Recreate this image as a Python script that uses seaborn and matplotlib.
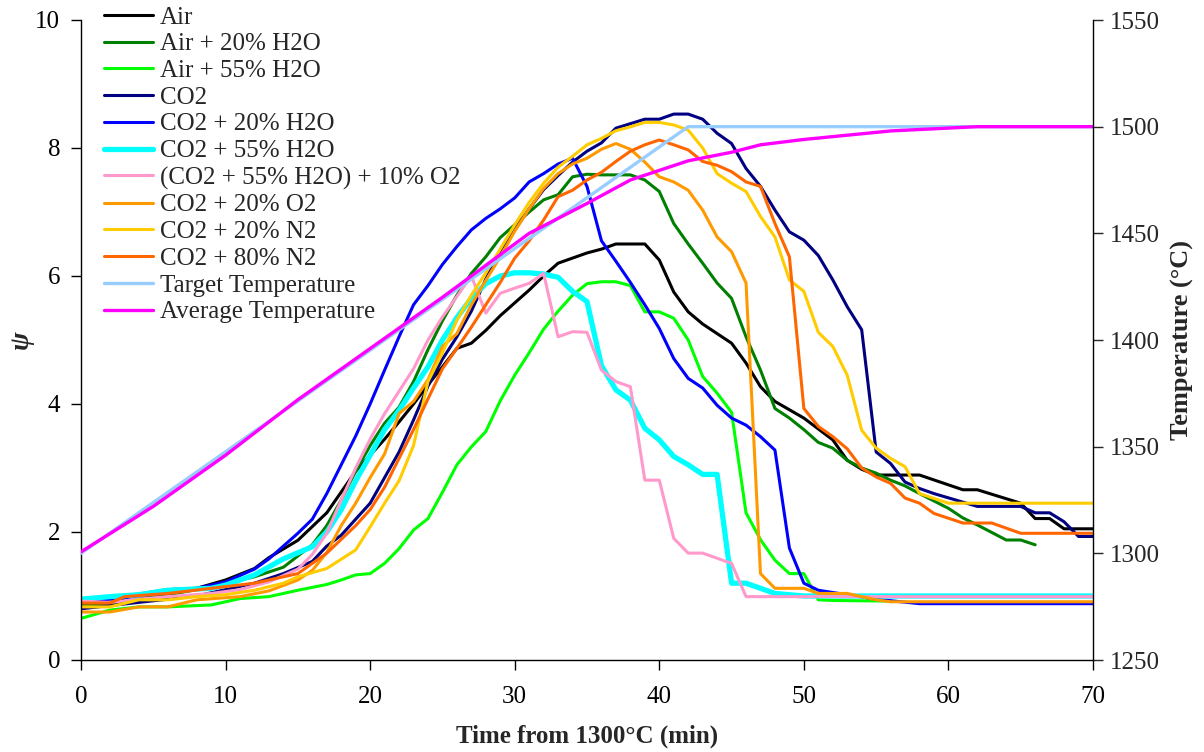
import matplotlib
matplotlib.use("Agg")
import matplotlib.pyplot as plt
import seaborn as sns
from matplotlib.lines import Line2D

# ---------------- data ----------------
air_t = [0, 2, 4, 6, 8, 10, 12, 13, 15, 17, 19, 20, 21, 22, 23, 24, 25, 26, 27, 28, 29, 30, 31, 32, 33, 34, 35,
         36, 37, 38, 39, 40, 41, 42, 43, 44, 45, 46, 47, 48, 50, 52, 53, 54, 55, 58, 61, 62, 65, 66, 67, 68, 70]
air_v = [0.85, 0.9, 1.03, 1.1, 1.12, 1.25, 1.43, 1.6, 1.87, 2.3, 2.95, 3.2, 3.45, 3.72, 4.0, 4.3, 4.58, 4.87, 4.95,
         5.15, 5.38, 5.58, 5.78, 6.0, 6.2, 6.28, 6.36, 6.42, 6.5, 6.5, 6.5, 6.25, 5.75, 5.44, 5.25, 5.1, 4.95, 4.64,
         4.27, 4.04, 3.78, 3.44, 3.12, 2.98, 2.89, 2.89, 2.66, 2.66, 2.45, 2.21, 2.21, 2.05, 2.05]

air20_t = [0, 2, 4, 6, 8, 10, 12, 14, 16, 17, 18, 19, 20, 21, 22, 23, 24, 25, 26, 27, 28, 29, 30, 31, 32, 33, 34, 35,
           36, 37, 38, 39, 40, 41, 42, 43, 44, 45, 46, 47, 48, 49, 50, 51, 52, 53, 54, 55, 56, 57, 58, 60, 61, 62,
           64, 65, 66]
air20_v = [0.85, 0.88, 0.95, 1.02, 1.1, 1.2, 1.3, 1.45, 1.8, 2.1, 2.5, 2.95, 3.35, 3.7, 3.95, 4.35, 4.85, 5.3, 5.7,
           6.04, 6.3, 6.6, 6.8, 7.0, 7.19, 7.27, 7.55, 7.59, 7.58, 7.58, 7.58, 7.5, 7.32, 6.82, 6.5, 6.2, 5.89, 5.65,
           5.05, 4.53, 3.93, 3.78, 3.6, 3.4, 3.31, 3.12, 3.0, 2.92, 2.81, 2.72, 2.6, 2.37, 2.22, 2.11, 1.875, 1.875,
           1.8]

air55_t = [0, 2, 4, 6, 9, 11, 13, 15, 17, 18, 19, 20, 21, 22, 23, 24, 25, 26, 27, 28, 29, 30, 31, 32, 33, 34, 35,
           36, 37, 38, 39, 40, 41, 42, 43, 44, 45, 46, 47, 48, 49, 50, 51, 52, 56]
air55_v = [0.65, 0.78, 0.83, 0.83, 0.86, 0.96, 0.99, 1.09, 1.18, 1.25, 1.33, 1.35, 1.51, 1.74, 2.03, 2.21, 2.62,
           3.05, 3.33, 3.57, 4.05, 4.45, 4.8, 5.17, 5.45, 5.7, 5.88, 5.91, 5.91, 5.85, 5.44, 5.44, 5.34, 5.0, 4.43,
           4.17, 3.87, 2.3, 1.88, 1.56, 1.35, 1.35, 0.94, 0.93, 0.92]

co2_t = [0, 2, 4, 6, 8, 10, 12, 14, 16, 17, 18, 19, 20, 21, 22, 23, 24, 25, 26, 27, 28, 29, 30, 31, 32, 33, 34, 35,
         36, 37, 38, 39, 40, 41, 42, 43, 44, 45, 46, 47, 48, 49, 50, 51, 52, 53, 54, 55, 56, 57, 58, 59, 62, 65, 66,
         67, 68, 69, 70]
co2_v = [0.8, 0.85, 0.9, 0.95, 1.0, 1.1, 1.2, 1.35, 1.54, 1.78, 1.95, 2.2, 2.45, 2.85, 3.25, 3.75, 4.28, 4.7, 5.05,
         5.45, 5.95, 6.4, 6.72, 7.05, 7.35, 7.57, 7.78, 7.95, 8.08, 8.31, 8.38, 8.45, 8.45, 8.53, 8.53, 8.45, 8.23,
         8.07, 7.68, 7.4, 7.03, 6.69, 6.56, 6.32, 5.94, 5.52, 5.16, 3.25, 3.07, 2.78, 2.68, 2.6, 2.4, 2.4, 2.3, 2.3,
         2.16, 1.93, 1.93]

co2h20_t = [0, 2, 4, 6, 8, 10, 12, 13, 14, 15, 16, 17, 18, 19, 20, 21, 22, 23, 24, 25, 26, 27, 28, 29, 30, 31, 32,
            33, 34, 35, 36, 37, 38, 39, 40, 41, 42, 43, 44, 45, 46, 47, 48, 49, 50, 51, 53, 55, 58, 70]
co2h20_v = [0.9, 0.95, 1.0, 1.05, 1.12, 1.22, 1.42, 1.58, 1.78, 1.98, 2.2, 2.6, 3.05, 3.5, 4.0, 4.53, 5.05, 5.55,
            5.85, 6.18, 6.46, 6.72, 6.9, 7.05, 7.22, 7.47, 7.6, 7.75, 7.84, 7.4, 6.55, 6.23, 5.9, 5.55, 5.18, 4.71,
            4.4, 4.25, 3.98, 3.78, 3.67, 3.49, 3.28, 1.75, 1.2, 1.09, 1.02, 0.95, 0.88, 0.88]

co2h55_t = [0, 2, 4, 6, 9, 10, 12, 14, 16, 17, 18, 19, 20, 21, 22, 23, 24, 25, 26, 27, 28, 29, 30, 31, 32, 33, 34,
            35, 36, 37, 38, 39, 40, 41, 42, 43, 44, 45, 46, 47, 48, 49, 50, 70]
co2h55_v = [0.95, 0.99, 1.02, 1.09, 1.12, 1.17, 1.33, 1.58, 1.77, 2.0, 2.35, 2.8, 3.2, 3.6, 3.9, 4.25, 4.58, 5.0,
            5.35, 5.65, 5.88, 6.0, 6.05, 6.05, 6.03, 5.98, 5.76, 5.6, 4.6, 4.22, 4.06, 3.62, 3.44, 3.18, 3.05, 2.9,
            2.9, 1.2, 1.2, 1.12, 1.04, 1.02, 1.0, 1.0]

co2h55o2_t = [0, 2, 4, 6, 9, 11, 13, 15, 16, 17, 18, 19, 20, 21, 22, 23, 24, 25, 26, 27, 28, 29, 30, 31, 32, 33,
              34, 35, 36, 37, 38, 39, 40, 41, 42, 43, 44, 45, 46, 70]
co2h55o2_v = [0.92, 0.9, 0.95, 0.99, 1.04, 1.1, 1.22, 1.42, 1.65, 1.98, 2.5, 3.0, 3.45, 3.85, 4.2, 4.55, 5.0, 5.36,
              5.68, 6.0, 5.42, 5.73, 5.81, 5.885, 6.04, 5.05, 5.13, 5.12, 4.53, 4.35, 4.27, 2.81, 2.81, 1.9, 1.67,
              1.67, 1.59, 1.51, 0.99, 0.99]

co2o2_t = [0, 2, 4, 6, 8, 11, 13, 15, 16, 17, 18, 19, 20, 21, 22, 23, 24, 25, 26, 27, 28, 29, 30, 31, 32, 33, 34,
           35, 36, 37, 38, 39, 40, 41, 42, 43, 44, 45, 46, 47, 48, 50, 51, 53, 55, 56, 70]
co2o2_v = [0.75, 0.75, 0.83, 0.83, 0.94, 0.99, 1.08, 1.25, 1.4, 1.68, 2.1, 2.45, 2.85, 3.22, 3.85, 4.04, 4.38, 4.9,
           5.1, 5.55, 5.93, 6.3, 6.7, 7.05, 7.37, 7.6, 7.75, 7.84, 7.98, 8.07, 7.98, 7.78, 7.55, 7.47, 7.34, 7.03,
           6.61, 6.38, 5.89, 1.35, 1.12, 1.12, 1.04, 1.04, 0.94, 0.91, 0.91]

co2n20_t = [0, 2, 4, 6, 8, 10, 12, 14, 15, 17, 19, 20, 21, 22, 23, 24, 25, 26, 27, 28, 29, 30, 31, 32, 33, 34, 35,
            36, 37, 38, 39, 40, 41, 42, 43, 44, 45, 46, 47, 48, 49, 50, 51, 52, 53, 54, 55, 56, 57, 58, 60, 70]
co2n20_v = [0.83, 0.83, 0.94, 0.94, 0.99, 1.02, 1.09, 1.2, 1.3, 1.43, 1.72, 2.08, 2.45, 2.8, 3.35, 4.35, 4.8, 5.31,
            5.7, 6.05, 6.42, 6.8, 7.15, 7.45, 7.7, 7.87, 8.05, 8.15, 8.27, 8.33, 8.4, 8.4, 8.36, 8.28, 8.0, 7.6,
            7.45, 7.32, 6.93, 6.61, 5.94, 5.76, 5.12, 4.9, 4.45, 3.59, 3.31, 3.15, 3.02, 2.6, 2.45, 2.45]

co2n80_t = [0, 2, 3, 6, 9, 12, 15, 17, 19, 20, 21, 22, 23, 24, 25, 26, 27, 28, 29, 30, 31, 32, 33, 34, 35, 36, 37,
            38, 39, 40, 41, 42, 43, 44, 45, 46, 47, 48, 49, 50, 51, 52, 53, 54, 55, 56, 57, 58, 59, 61, 63, 65, 70]
co2n80_v = [0.89, 0.89, 0.99, 1.04, 1.12, 1.2, 1.35, 1.67, 2.1, 2.35, 2.7, 3.15, 3.6, 4.08, 4.55, 4.87, 5.2, 5.55,
            5.9, 6.28, 6.55, 6.875, 7.24, 7.34, 7.5, 7.62, 7.79, 7.95, 8.05, 8.125, 8.05, 7.97, 7.79, 7.73, 7.63,
            7.47, 7.4, 6.82, 6.3, 3.93, 3.65, 3.49, 3.3, 3.0, 2.86, 2.76, 2.53, 2.45, 2.29, 2.14, 2.14, 1.98, 1.98]

target_t = [0, 42, 70]
target_T = [1300, 1500, 1500]

avg_t = [0, 5, 10, 15, 20, 25, 31, 35, 38, 42, 45, 47, 50, 53, 56, 59, 62, 70]
avg_T = [1300.7, 1322, 1346, 1372, 1396, 1420, 1450, 1464, 1475, 1484, 1488, 1491.5, 1494, 1496, 1498, 1499, 1500,
         1500]

labels = ["Air", "Air + 20% H2O", "Air + 55% H2O", "CO2", "CO2 + 20% H2O", "CO2 + 55% H2O",
          "(CO2 + 55% H2O) + 10% O2", "CO2 + 20% O2", "CO2 + 20% N2", "CO2 + 80% N2",
          "Target Temperature", "Average Temperature"]

# ---------------- style ----------------
sns.set_theme(style="white")
plt.rcParams['font.family'] = ['Liberation Serif', 'DejaVu Serif']

psi_series = [
    (air_t, air_v, "#000000", 2.2),
    (air20_t, air20_v, "#008000", 2.2),
    (air55_t, air55_v, "#00FF00", 2.2),
    (co2_t, co2_v, "#000080", 2.2),
    (co2h20_t, co2h20_v, "#0000FF", 2.2),
    (co2h55_t, co2h55_v, "#00FFFF", 3.8),
    (co2h55o2_t, co2h55o2_v, "#FF99CC", 2.2),
    (co2o2_t, co2o2_v, "#FF9900", 2.2),
    (co2n20_t, co2n20_v, "#FFCC00", 2.2),
    (co2n80_t, co2n80_v, "#FF6600", 2.2),
]
temp_series = [
    (target_t, target_T, "#99CCFF", 2.4),
    (avg_t, avg_T, "#FF00FF", 2.4),
]

fig = plt.figure(figsize=(12.04, 7.52), dpi=100)
ax = fig.add_axes([81 / 1204, 92 / 752, (1093 - 81) / 1204, 640 / 752])
ax2 = ax.twinx()

handles = []
for (t, v, c, lw), lab in zip(psi_series, labels[:10]):
    sns.lineplot(x=t, y=v, ax=ax, color=c, linewidth=lw, estimator=None, sort=False, legend=False)
    handles.append(Line2D([], [], color=c, linewidth=lw, label=lab))
for (t, v, c, lw), lab in zip(temp_series, labels[10:]):
    sns.lineplot(x=t, y=v, ax=ax2, color=c, linewidth=lw, estimator=None, sort=False, legend=False)
    handles.append(Line2D([], [], color=c, linewidth=lw, label=lab))

ax.set_xlim(0, 70)
ax.set_ylim(0, 10)
ax2.set_ylim(1250, 1550)
ax.set_xticks(range(0, 71, 10))
ax.set_yticks(range(0, 11, 2))
ax2.set_yticks(range(1250, 1551, 50))

for a in (ax, ax2):
    a.spines['top'].set_visible(False)
    for s in a.spines.values():
        s.set_color("#000000")
        s.set_linewidth(1.0)
ax.spines['right'].set_visible(False)
ax2.spines['left'].set_visible(False)
ax2.spines['bottom'].set_visible(False)

ax.tick_params(axis='both', which='major', direction='out', length=7, width=1, labelsize=18, colors='black',
               left=True, bottom=True, pad=8)
ax.tick_params(axis='x', pad=12)
ax2.tick_params(axis='y', direction='out', length=7, width=1, labelsize=18, right=True, pad=5)

ax.set_xlabel("Time from 1300°C (min)", fontsize=18, fontweight='bold', labelpad=12)
ax.set_ylabel("ψ", fontsize=20, fontweight='bold', style='italic', labelpad=1)
ax2.set_ylabel("Temperature (°C)", fontsize=19, fontweight='bold', labelpad=8)

leg = ax2.legend(handles=handles, loc='upper left', bbox_to_anchor=(104 / 1204, 1 - 6 / 752),
                 bbox_transform=fig.transFigure, frameon=False, fontsize=18, handlelength=1.95,
                 handletextpad=0.3, labelspacing=0.17, borderpad=0, borderaxespad=0)

fig.savefig("out.png", dpi=100, facecolor="white")
